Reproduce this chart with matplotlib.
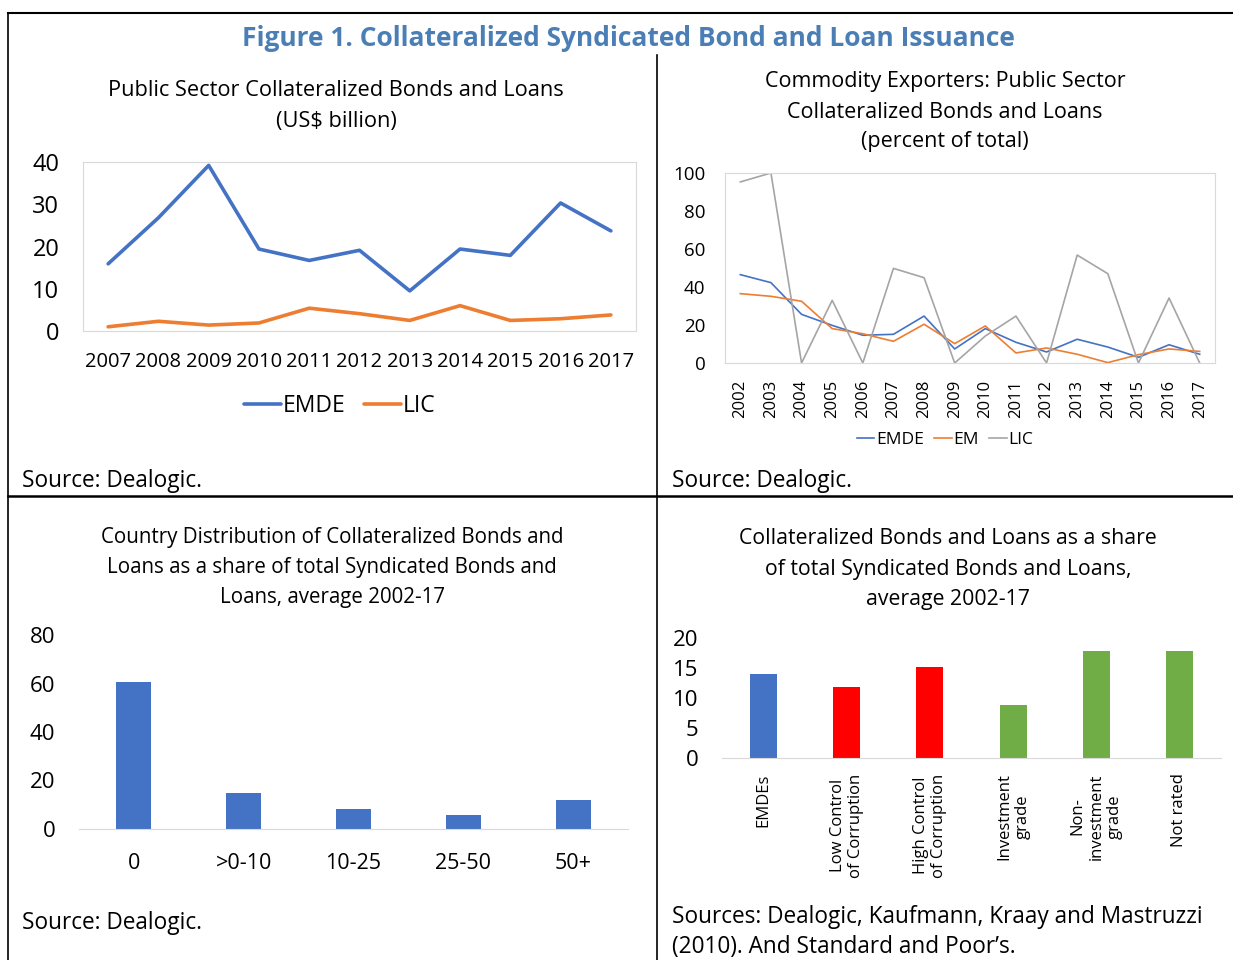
import matplotlib
matplotlib.use("Agg")
import matplotlib.pyplot as plt
from matplotlib.lines import Line2D

W, H = 1233, 960

# --- data ---
years_a = [str(y) for y in range(2007, 2018)]
emde_a = [15.9, 26.8, 39.2, 19.4, 16.7, 19.1, 9.5, 19.4, 17.9, 30.3, 23.7]
lic_a = [1.0, 2.3, 1.4, 1.9, 5.4, 4.1, 2.5, 6.0, 2.5, 2.9, 3.8]

years_b = [str(y) for y in range(2002, 2018)]
emde_b = [46.5, 42.3, 25.6, 19.8, 14.6, 15.1, 24.7, 7.4, 18.1, 10.9, 5.8, 12.5, 8.4, 3.0, 9.6, 4.6]
em_b = [36.5, 35.1, 32.5, 18.1, 15.4, 11.4, 20.4, 10.2, 19.5, 5.3, 7.9, 4.6, 0.2, 4.4, 7.4, 6.1]
lic_b = [95.3, 100.0, 0.0, 33.0, 0.0, 49.8, 44.9, 0.0, 14.2, 24.7, 0.0, 56.8, 47.0, 0.0, 34.2, 0.0]

dist_cats = ["0", ">0-10", "10-25", "25-50", "50+"]
dist_vals = [60.7, 14.7, 8.1, 5.6, 12.0]

share_cats = ["EMDEs", "Low Control\nof Corruption", "High Control\nof Corruption",
              "Investment\ngrade", "Non-\ninvestment\ngrade", "Not rated"]
share_vals = [14.0, 11.8, 15.2, 8.8, 17.9, 17.9]

BLUE = "#4472C4"
ORANGE = "#ED7D31"
GRAY = "#A5A5A5"
RED = "#FF0000"
GREEN = "#70AD47"
SPINE = "#D9D9D9"
share_colors = [BLUE, RED, RED, GREEN, GREEN, GREEN]

FONT = "Open Sans"
plt.rcParams["font.family"] = [FONT, "DejaVu Sans"]

fig = plt.figure(figsize=(W / 100, H / 100), dpi=100)


def px_axes(x0, y0, x1, y1):
    return fig.add_axes([x0 / W, 1 - y1 / H, (x1 - x0) / W, (y1 - y0) / H])


def fx(x):
    return x / W


def fy(y):
    return 1 - y / H


def text_lines(cx, ys, lines, size, **kw):
    for y, s in zip(ys, lines):
        fig.text(fx(cx), fy(y), s, ha="center", va="center", fontsize=size, **kw)


def fig_line(xs, ys, lw=1.5):
    fig.add_artist(Line2D([fx(x) for x in xs], [fy(y) for y in ys],
                          color="black", lw=lw, transform=fig.transFigure))


# frame lines
fig_line([8, 1233], [13, 13], 1.5)
fig_line([8, 8], [13, 960], 1.2)
fig_line([657, 657], [55, 960], 1.2)
fig_line([8, 1233], [496, 496], 1.8)

fig.text(fx(628), fy(38), "Figure 1. Collateralized Syndicated Bond and Loan Issuance",
         ha="center", va="center", fontsize=19, fontweight="bold", color="#4A7EB5")

# --- panel 1 ---
text_lines(336, [90, 121], ["Public Sector Collateralized Bonds and Loans", "(US$ billion)"], 15.7)
ax1 = px_axes(83, 162, 636, 331)
x = range(len(years_a))
ax1.plot(x, emde_a, color=BLUE, lw=2.6, label="EMDE", solid_capstyle="round")
ax1.plot(x, lic_a, color=ORANGE, lw=2.6, label="LIC", solid_capstyle="round")
ax1.set_xlim(-0.5, len(years_a) - 0.5)
ax1.set_ylim(0, 40)
ax1.set_yticks([0, 10, 20, 30, 40])
ax1.set_xticks(list(x))
ax1.set_xticklabels(years_a)
ax1.tick_params(axis="y", labelsize=17, length=0, pad=17)
ax1.tick_params(axis="x", labelsize=14.5, length=0, pad=15)
for s in ax1.spines.values():
    s.set_color(SPINE)
ax1.legend(loc="center", bbox_to_anchor=(fx(340), fy(406)), bbox_transform=fig.transFigure,
           ncol=2, frameon=False, fontsize=16.5, handlelength=1.6, handletextpad=0.1,
           columnspacing=0.8)
fig.text(fx(22), fy(481), "Source: Dealogic.", ha="left", va="center", fontsize=16.3)

# --- panel 2 ---
text_lines(945, [81, 112, 142], ["Commodity Exporters: Public Sector",
                                 "Collateralized Bonds and Loans", "(percent of total)"], 15.5)
ax2 = px_axes(725, 173, 1215, 363)
x = range(len(years_b))
ax2.plot(x, emde_b, color=BLUE, lw=1.2, label="EMDE")
ax2.plot(x, em_b, color=ORANGE, lw=1.2, label="EM")
ax2.plot(x, lic_b, color=GRAY, lw=1.2, label="LIC")
ax2.set_xlim(-0.5, len(years_b) - 0.5)
ax2.set_ylim(0, 100)
ax2.set_yticks(range(0, 101, 20))
ax2.set_xticks(list(x))
ax2.set_xticklabels(years_b, rotation=90)
ax2.tick_params(axis="y", labelsize=13.5, length=0, pad=14)
ax2.tick_params(axis="x", labelsize=12, length=0, pad=12)
for s in ax2.spines.values():
    s.set_color(SPINE)
ax2.legend(loc="center", bbox_to_anchor=(fx(945), fy(440)), bbox_transform=fig.transFigure,
           ncol=3, frameon=False, fontsize=12.5, handlelength=1.0, handletextpad=0.1,
           columnspacing=0.6)
fig.text(fx(672), fy(481), "Source: Dealogic.", ha="left", va="center", fontsize=16.3)

# --- panel 3 ---
text_lines(332, [538, 568, 597], ["Country Distribution of Collateralized Bonds and",
                                  "Loans as a share of total Syndicated Bonds and",
                                  "Loans, average 2002-17"], 14.8)
ax3 = px_axes(79, 635, 628, 829)
ax3.bar(range(len(dist_cats)), dist_vals, width=0.32, color=BLUE)
ax3.set_xlim(-0.5, len(dist_cats) - 0.5)
ax3.set_ylim(0, 80)
ax3.set_yticks(range(0, 81, 20))
ax3.set_xticks(range(len(dist_cats)))
ax3.set_xticklabels(dist_cats)
ax3.tick_params(axis="y", labelsize=16, length=0, pad=17)
ax3.tick_params(axis="x", labelsize=15.5, length=0, pad=17)
for k in ["top", "right", "left"]:
    ax3.spines[k].set_visible(False)
ax3.spines["bottom"].set_color(SPINE)
fig.text(fx(22), fy(923), "Source: Dealogic.", ha="left", va="center", fontsize=16.3)

# --- panel 4 ---
text_lines(948, [538, 569, 600], ["Collateralized Bonds and Loans as a share",
                                  "of total Syndicated Bonds and Loans,",
                                  "average 2002-17"], 15.3)
ax4 = px_axes(722, 638, 1221, 758)
ax4.bar(range(len(share_cats)), share_vals, width=0.325, color=share_colors)
ax4.set_xlim(-0.5, len(share_cats) - 0.5)
ax4.set_ylim(0, 20)
ax4.set_yticks(range(0, 21, 5))
ax4.set_xticks(range(len(share_cats)))
ax4.set_xticklabels(share_cats, rotation=90, va="top", ha="center", multialignment="center")
ax4.tick_params(axis="y", labelsize=16, length=0, pad=17)
ax4.tick_params(axis="x", labelsize=12, length=0, pad=11)
for k in ["top", "right", "left"]:
    ax4.spines[k].set_visible(False)
ax4.spines["bottom"].set_color(SPINE)
fig.text(fx(672), fy(917), "Sources: Dealogic, Kaufmann, Kraay and Mastruzzi",
         ha="left", va="center", fontsize=16.3)
fig.text(fx(672), fy(947), "(2010). And Standard and Poor\u2019s.",
         ha="left", va="center", fontsize=16.3)

fig.savefig("out.png", dpi=100)
